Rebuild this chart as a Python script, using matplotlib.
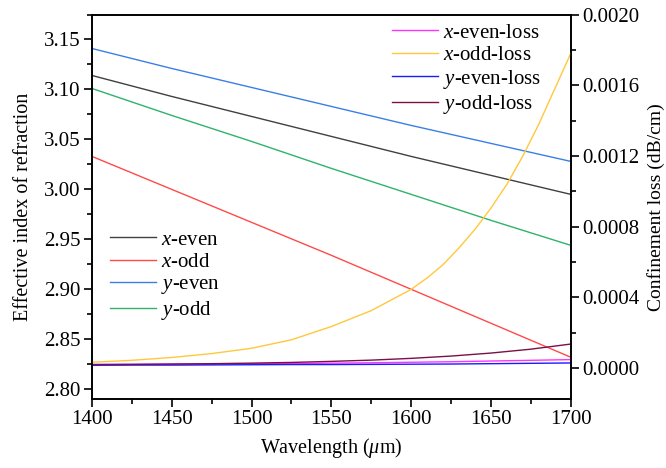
import numpy as np
import matplotlib
matplotlib.use("Agg")
import matplotlib.pyplot as plt
from matplotlib.ticker import MultipleLocator

plt.rcParams['font.family'] = ['Liberation Serif', 'DejaVu Serif']
plt.rcParams['mathtext.fontset'] = 'custom'
plt.rcParams['mathtext.rm'] = 'Liberation Serif'
plt.rcParams['mathtext.it'] = 'Liberation Serif:italic'

# effective index, sampled every 50 nm
wl_n = [1400, 1450, 1500, 1550, 1600, 1650, 1700]
n_x_even = [3.114, 3.093, 3.073, 3.053, 3.033, 3.014, 2.995]
n_x_odd = [3.033, 3.000, 2.967, 2.934, 2.900, 2.866, 2.832]
n_y_even = [3.141, 3.121, 3.102, 3.083, 3.064, 3.046, 3.028]
n_y_odd = [3.101, 3.074, 3.048, 3.021, 2.995, 2.969, 2.944]

# confinement loss (dB/cm), sampled every 25 nm
wl_l = [1400, 1425, 1450, 1475, 1500, 1525, 1550, 1575, 1600, 1625, 1650, 1675, 1700]
loss_x_even = [2.0e-5, 2.1e-5, 2.2e-5, 2.3e-5, 2.5e-5, 2.6e-5, 2.8e-5,
               3.0e-5, 3.3e-5, 3.6e-5, 4.0e-5, 4.4e-5, 4.8e-5]
loss_y_even = [1.6e-5, 1.7e-5, 1.7e-5, 1.8e-5, 1.9e-5, 2.0e-5, 2.0e-5,
               2.1e-5, 2.2e-5, 2.3e-5, 2.5e-5, 2.7e-5, 2.9e-5]
loss_y_odd = [2.0e-5, 2.1e-5, 2.3e-5, 2.5e-5, 2.8e-5, 3.2e-5, 3.8e-5,
              4.5e-5, 5.5e-5, 6.8e-5, 8.5e-5, 1.07e-4, 1.36e-4]

# x-odd loss rises steeply, so it is sampled finer above 1600 nm
wl_xo = [1400, 1425, 1450, 1475, 1500, 1525, 1550, 1575,
         1600, 1610, 1620, 1630, 1640, 1650, 1660, 1670, 1680, 1690, 1700]
loss_x_odd = [3.3e-5, 4.4e-5, 6.0e-5, 8.2e-5, 1.12e-4, 1.6e-4, 2.35e-4, 3.25e-4,
              4.45e-4, 5.1e-4, 5.85e-4, 6.8e-4, 7.85e-4, 9.05e-4, 1.04e-3,
              1.2e-3, 1.38e-3, 1.58e-3, 1.78e-3]

fs = 15

fig = plt.figure(figsize=(6.66, 4.68), dpi=100)
ax = fig.add_axes([0.138, 0.147, 0.719, 0.822])
ax2 = ax.twinx()

ax.plot(wl_n, n_x_even, color='#404040', lw=1, label='$x$-even')
ax.plot(wl_n, n_x_odd, color='#ff4a4a', lw=1, label='$x$-odd')
ax.plot(wl_n, n_y_even, color='#3a7fe6', lw=1, label='$y$-even')
ax.plot(wl_n, n_y_odd, color='#2fb36a', lw=1, label='$y$-odd')

ax2.plot(wl_l, loss_x_even, color='#ff33ff', lw=1, label='$x$-even-loss')
ax2.plot(wl_xo, loss_x_odd, color='#ffc83c', lw=1, label='$x$-odd-loss')
ax2.plot(wl_l, loss_y_even, color='#1a1aff', lw=1, label='$y$-even-loss')
ax2.plot(wl_l, loss_y_odd, color='#7a1046', lw=1, label='$y$-odd-loss')

ax.set_xlim(1400, 1700)
ax.set_ylim(2.79, 3.175)
ax2.set_ylim(-0.000176, 0.0020)

ax.xaxis.set_major_locator(MultipleLocator(50))
ax.xaxis.set_minor_locator(MultipleLocator(25))
ax.yaxis.set_major_locator(MultipleLocator(0.05))
ax.yaxis.set_minor_locator(MultipleLocator(0.025))
ax2.yaxis.set_major_locator(MultipleLocator(0.0004))
ax2.yaxis.set_minor_locator(MultipleLocator(0.0002))
ax.yaxis.set_major_formatter(plt.FuncFormatter(lambda v, p: f'{v:.2f}'))
ax2.yaxis.set_major_formatter(plt.FuncFormatter(lambda v, p: f'{v:.4f}'))

for a in (ax, ax2):
    a.tick_params(which='both', direction='out', labelsize=fs, width=1.2, pad=2)
    a.tick_params(which='major', length=6)
    a.tick_params(which='minor', length=3.5)
    for s in a.spines.values():
        s.set_linewidth(1.2)

ax.set_xlabel('Wavelength ($\\mu$m)', fontsize=14.5, labelpad=5)
ax.set_ylabel('Effective index of refraction', fontsize=14.5, labelpad=8)
ax2.set_ylabel('Confinement loss (dB/cm)', fontsize=14, labelpad=6)

leg_kw = dict(frameon=False, fontsize=fs, handlelength=2.2, labelspacing=0.13,
              handletextpad=0.25, borderpad=0, borderaxespad=0)
ax.legend(loc='upper left', bbox_to_anchor=(0.0376, 0.44), **leg_kw)
ax2.legend(loc='upper left', bbox_to_anchor=(0.626, 0.978), **leg_kw)

fig.savefig('out.png', dpi=100)
